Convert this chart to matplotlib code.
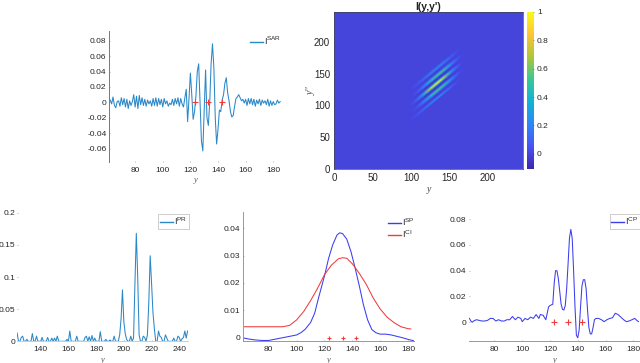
import numpy as np
import matplotlib
matplotlib.use("Agg")
import matplotlib.pyplot as plt
from matplotlib.colors import LinearSegmentedColormap

plt.rcParams['font.family'] = ['Liberation Sans', 'DejaVu Sans']
plt.rcParams['mathtext.fontset'] = 'custom'
plt.rcParams['mathtext.rm'] = 'Liberation Sans'
plt.rcParams['mathtext.it'] = 'Liberation Sans'

W, H = 640, 363
TXT = '#262626'
BLUE = '#2a87c8'
PURE = '#3c3cf0'
RED = '#f03c3c'

markers_y = [123, 133, 143]

sar_y = list(range(62, 186))
sar_i = [.003,-.002,.007,-.004,-.007,.001,.002,-.005,.006,-.003,.005,-.006,.004,-.008,.002,-.004,.001,.010,
         -.006,.008,-.008,.009,-.003,.006,-.004,.004,-.005,.003,-.002,.002,-.005,.005,-.004,.006,-.005,.005,
         -.003,.004,-.006,.005,-.002,.002,-.005,-.001,-.003,.004,-.004,.005,-.002,.006,-.005,.005,-.002,-.006,
         .006,.017,-.025,.005,.038,.01,-.022,-.012,.008,.04,.05,.0,-.05,-.063,-.01,.042,-.02,-.03,.0,.05,.076,
         .045,-.02,-.054,-.035,-.01,-.012,.003,.01,.025,.032,.012,.002,-.012,-.019,-.017,-.005,.005,.007,.01,
         .006,.002,.004,-.001,.004,-.004,.005,-.002,.005,-.003,.004,-.005,.003,-.002,.004,-.004,.003,-.001,
         .002,-.003,.004,-.005,.002,-.004,.001,-.003,-.002,.003,-.001,.001]

pr_y = list(range(123, 247))
pr_spike_y = [123,126,127,130,134,137,141,145,148,150,152,159,161,166,172,173,175,177,179,183,187,190,193,
              197,198,199,200,201,202,205,207,208,209,210,211,214,215,217,218,219,220,221,222,225,226,227,
              230,231,236,239,240,242,243,244,245,246]
pr_spike_i = [.013,.006,.008,.003,.012,.008,.006,.006,.005,.005,.008,.003,.016,.008,.006,.008,.007,.009,.005,
              .015,.003,.002,.008,.01,.035,.08,.03,.012,.003,.008,.005,.09,.168,.1,.01,.008,.006,.01,.06,.133,
              .09,.045,.02,.016,.008,.006,.01,.005,.005,.008,.006,.004,.006,.016,.005,.016]

sp_y = [62,66,70,75,80,85,90,95,100,103,106,110,113,116,120,123,126,129,131,133,136,139,142,145,148,151,154,
        157,160,164,168,172,176,180,184]
sp_i = [-.0001,-.0005,-.0008,-.001,-.001,-.0005,.0,.0005,.001,.0018,.003,.0055,.009,.015,.0225,.029,.034,
        .0375,.0383,.038,.036,.0315,.0255,.019,.012,.0065,.003,.0018,.0013,.0013,.001,.0005,.0,-.0006,-.0011]
ci_y = [62,70,80,90,95,100,105,110,115,120,125,130,133,136,140,145,150,155,160,165,170,175,180,182]
ci_i = [.004,.004,.004,.004,.0045,.0065,.0095,.0135,.018,.023,.0265,.0288,.0292,.029,.027,.0235,.0195,.0145,
        .0105,.0075,.0055,.004,.0033,.0032]

cp_y = [62,63,64,65,67,69,71,73,75,77,79,81,83,85,87,89,91,93,95,97,99,100,102,104,106,108,110,112,113,115,
        117,119,120,122,123,124,125,126,127,128,129,130,131,132,133,134,135,136,137,138,139,140,141,142,143,
        144,145,146,147,148,149,150,151,152,153,155,157,159,161,163,165,167,169,171,173,175,177,179,181,183,184]
cp_i = [.003,.001,.0,.001,.002,.0015,.001,.001,.0015,.003,.003,.001,.002,.001,.001,.002,.002,.0045,.002,.004,
        .003,.0005,.003,.002,.004,.003,.006,.003,.006,.0055,.002,.012,.013,.014,.03,.04,.04,.034,.024,.014,.01,
        .0095,.013,.026,.045,.065,.072,.065,.04,.012,-.01,-.012,-.006,.012,.028,.033,.033,.026,.01,-.004,-.009,
        -.009,-.004,.002,.003,.003,.002,.0005,.002,.003,.0035,.007,.006,.004,.002,.0005,.001,.002,.003,.001,.0005]

# intensity I(y,y') around the central peak, read along the slanted stripes
peak_y, peak_yp, stripe_slope = 133, 135, 0.98
along = [-36,-30,-24,-18,-12,-6,0,6,12,18,24,30,36]
across = [-27,-24,-21,-18,-15,-12,-9,-6,-3,0,3,6,9,12,15,18,21,24,27]
ZERO = [0]*13
FAR = [0,.03,.07,.12,.17,.21,.23,.22,.17,.11,.05,.01,0]
FAR_H = [0,.01,.02,.03,.04,.05,.05,.05,.04,.03,.01,0,0]
NEG2 = [0,0,-.01,-.02,-.03,-.04,-.05,-.04,-.03,-.02,-.01,0,0]
NEG = [0,0,-.02,-.05,-.08,-.09,-.1,-.09,-.08,-.05,-.02,0,0]
SIDE = [0,.02,.08,.18,.35,.5,.55,.55,.45,.28,.12,.03,0]
SIDE_H = [0,.01,.02,.05,.09,.13,.15,.15,.12,.07,.03,.01,0]
MAIN = [0,.05,.15,.35,.65,.92,1,.92,.65,.35,.15,.05,0]
MAIN_H = [0,.01,.04,.09,.17,.25,.28,.25,.17,.09,.04,.01,0]
stripes = [ZERO, FAR, FAR_H, NEG2, SIDE_H, SIDE, SIDE_H, NEG, MAIN_H, MAIN, MAIN_H, NEG, SIDE_H, SIDE, SIDE_H, NEG2,
           FAR_H, FAR, ZERO]

parula = LinearSegmentedColormap.from_list('parula', [
    (0.2422,0.1504,0.6603),(0.2810,0.3228,0.9579),(0.1786,0.5289,0.9682),(0.0689,0.6948,0.8394),
    (0.2161,0.7843,0.5923),(0.6720,0.7793,0.2227),(0.9970,0.7659,0.2199),(0.9769,0.9839,0.0805)])


def axes_px(fig, left, right, top, bottom):
    return fig.add_axes([left / W, 1 - bottom / H, (right - left) / W, (bottom - top) / H])


def style(ax, xlim, ylim, xticks, yticks, yfmt, left=True, bottom=True):
    ax.set_xlim(*xlim)
    ax.set_ylim(*ylim)
    ax.set_xticks(xticks)
    ax.set_yticks(yticks)
    ax.set_yticklabels([yfmt(v) for v in yticks])
    ax.tick_params(labelsize=6, length=1, width=.4, color='#777777', labelcolor=TXT, pad=2, direction='in')
    ax.tick_params(axis='x', pad=3.5)
    for s in ('top', 'right'):
        ax.spines[s].set_visible(False)
    ax.spines['left'].set_visible(left)
    ax.spines['bottom'].set_visible(bottom)
    for s in ('left', 'bottom'):
        ax.spines[s].set_color('#999999')
        ax.spines[s].set_linewidth(.7)
    ax.set_xlabel('y', fontsize=6, family='Liberation Serif', style='italic', color='#555555', labelpad=2)


def fmt(v):
    return '0' if abs(v) < 1e-9 else f'{v:g}'


def leg(ax, x, y, frame=False, spacing=0.1):
    l = ax.legend(loc='upper left', bbox_to_anchor=(x, y), fontsize=6.5, frameon=frame, handlelength=1.4,
                  borderpad=.2, borderaxespad=0, handletextpad=.15, labelspacing=spacing, labelcolor=TXT,
                  fancybox=False, edgecolor='#aaaaaa')
    for h in l.get_lines():
        h.set_linewidth(1.0)
    if frame:
        l.get_frame().set_linewidth(.5)


fig = plt.figure(figsize=(6.4, 3.63), dpi=100)

# SAR
ax = axes_px(fig, 109.3, 281, 31, 161.7)
ax.plot(sar_y, sar_i, color=BLUE, lw=.75, label=r'$\mathrm{I}^{\mathrm{SAR}}$')
ax.plot(markers_y, [0] * 3, '+', color=RED, ms=4, mew=.8)
style(ax, (61.3, 185.6), (-.077, .0926), range(80, 181, 20), [-.06,-.04,-.02,0,.02,.04,.06,.08], fmt, bottom=False)
ax.spines['left'].set_color('#777777')
leg(ax, .81, .985)

# heatmap
ax = axes_px(fig, 334.3, 522.7, 11.7, 169.3)
ax.set_facecolor(parula((0 + .11) / 1.11))
T, O = np.meshgrid(along, across)
mesh = ax.pcolormesh(peak_y + T, peak_yp + stripe_slope * T + O, np.array(stripes), cmap=parula, vmin=-.11, vmax=1,
                     shading='gouraud')
ax.set_xlim(0, 245)
ax.set_ylim(0, 247)
ax.set_xticks(range(0, 201, 50))
ax.set_yticks(range(0, 201, 50))
ax.tick_params(labelsize=7, length=1, width=.4, direction='in', color='#555555', labelcolor=TXT, pad=3)
for s in ax.spines.values():
    s.set_linewidth(.5)
    s.set_color('#444444')
ax.set_title("I(y,y')", fontsize=7.5, fontweight='bold', color='#222222', pad=1.5)
ax.set_xlabel('y', fontsize=7, family='Liberation Serif', style='italic', color='#444444', labelpad=1)
ax.set_ylabel("y''", fontsize=7, family='Liberation Serif', style='italic', color='#444444', labelpad=-1)
cax = axes_px(fig, 527, 534.3, 12, 169.3)
cb = fig.colorbar(mesh, cax=cax)
cb.set_ticks([0, .2, .4, .6, .8, 1])
cb.set_ticklabels(['0', '0.2', '0.4', '0.6', '0.8', '1'])
cb.ax.tick_params(labelsize=6, length=1, width=.4, color='#555555', labelcolor=TXT, pad=2, direction='in')
cb.outline.set_visible(False)

# PR
ax = axes_px(fig, 16.7, 188.3, 212.7, 341.3)
pr_i = np.zeros(len(pr_y))
pr_i[np.array(pr_spike_y) - pr_y[0]] = pr_spike_i
ax.plot(pr_y, pr_i, color=BLUE, lw=.75, label=r'$\mathrm{I}^{\mathrm{PR}}$')
style(ax, (122.7, 246.5), (0, .2), range(140, 241, 20), [0, .05, .1, .15, .2], fmt, left=False)
ax.spines['bottom'].set_color('#cccccc')
ax.tick_params(axis='y', pad=1)
leg(ax, .825, .99, frame=True)

# SP / CI
ax = axes_px(fig, 242.7, 414, 211.7, 341)
ax.plot(sp_y, sp_i, color=PURE, lw=.75, label=r'$\mathrm{I}^{\mathrm{SP}}$')
ax.plot(ci_y, ci_i, color=RED, lw=.75, label=r'$\mathrm{I}^{\mathrm{CI}}$')
ax.plot(markers_y, [0] * 3, '+', color=RED, ms=3.5, mew=.8)
style(ax, (61.3, 184.3), (-.0012, .046), range(80, 181, 20), [0, .01, .02, .03, .04], fmt)
leg(ax, .84, .98, spacing=.1)

# CP
ax = axes_px(fig, 469.3, 639.3, 212, 341)
ax.plot(cp_y, cp_i, color=PURE, lw=.75, label=r'$\mathrm{I}^{\mathrm{CP}}$')
ax.plot(markers_y, [0] * 3, '+', color=RED, ms=4, mew=.8)
style(ax, (61.9, 184.3), (-.0145, .0855), range(80, 181, 20), [0, .02, .04, .06, .08], fmt, left=False)
leg(ax, .825, .985, frame=True)

fig.savefig('out.png', dpi=100)
